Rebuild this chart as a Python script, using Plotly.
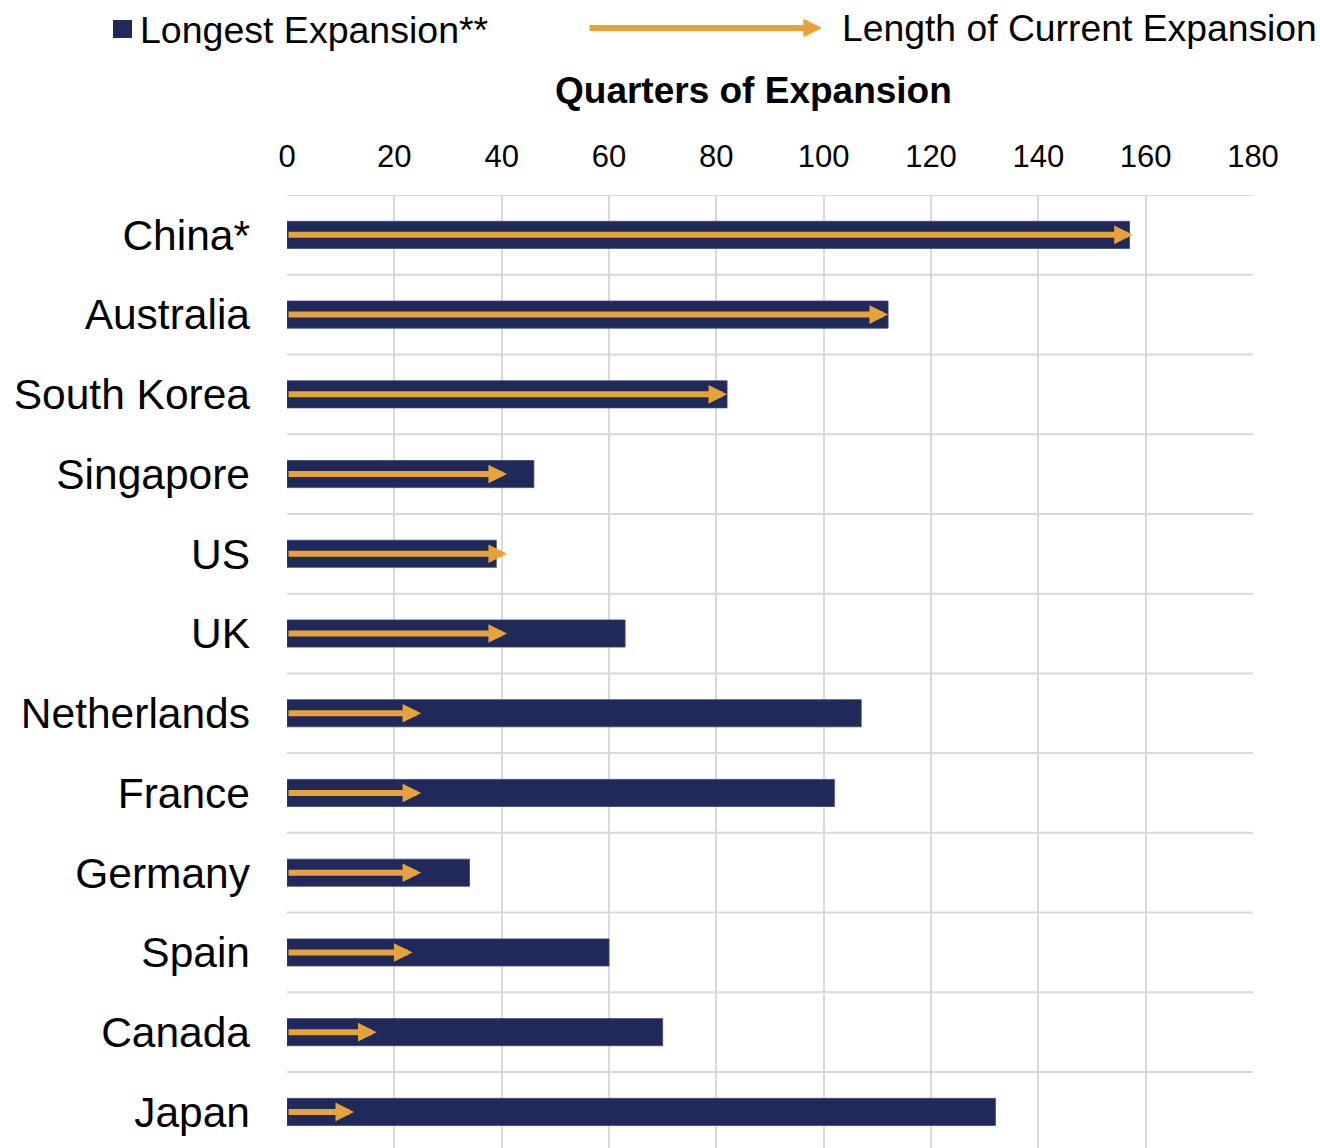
import plotly.graph_objects as go

# Economic expansion lengths, in quarters
countries = ["China*", "Australia", "South Korea", "Singapore", "US", "UK",
             "Netherlands", "France", "Germany", "Spain", "Canada", "Japan"]
longest_expansion = [157, 112, 82, 46, 39, 63, 107, 102, 34, 60, 70, 132]
current_expansion = [157.6, 112, 82, 41, 41, 41, 25, 25, 25, 23.4, 16.7, 12.5]
x_ticks = [0, 20, 40, 60, 80, 100, 120, 140, 160, 180]

NAVY = "#1f2a5a"
ORANGE = "#e8a23a"
GRID = "#d9d9d9"
FONT = "Liberation Sans, Arial, sans-serif"

W, H = 1320, 1148
ML, MR, MT, MB = 287, 67, 195, 0
PW, PH = W - ML - MR, H - MT - MB


def px_x(p):
    return (p - ML) / PW


def px_y(p):
    return (H - MB - p) / PH


rows = list(range(len(countries)))
row_px = 79.73  # height of one category band
y_bottom = -0.5 + PH / row_px

ARROW = dict(showarrow=True, arrowhead=2, arrowsize=0.62, arrowwidth=6,
             arrowcolor=ORANGE, standoff=0)

fig = go.Figure()
fig.add_trace(go.Bar(
    x=longest_expansion, y=rows, orientation="h", width=0.34,
    marker=dict(color=NAVY, line=dict(color="#3b4675", width=0.8)),
    showlegend=False, hoverinfo="x+y",
))

annotations = []
for r, cur in zip(rows, current_expansion):
    annotations.append(dict(
        x=cur, y=r, xref="x", yref="y", ax=0, ay=r, axref="x", ayref="y",
        text="", **ARROW,
    ))

# axis title above the tick labels
annotations.append(dict(
    text="<b>Quarters of Expansion</b>", xref="paper", yref="paper",
    x=px_x(753.5), y=px_y(90), xanchor="center", yanchor="middle",
    showarrow=False, font=dict(family=FONT, size=37, color="black"),
))

# legend entries
annotations.append(dict(
    text="Longest Expansion**", xref="paper", yref="paper",
    x=px_x(138), y=px_y(30), xanchor="left", yanchor="middle",
    showarrow=False, font=dict(family=FONT, size=37.5, color="black"),
))
annotations.append(dict(
    x=px_x(822), y=px_y(28), xref="paper", yref="paper",
    ax=-(822 - 588), ay=0, text="", **ARROW,
))
annotations.append(dict(
    text="Length of Current Expansion", xref="paper", yref="paper",
    x=px_x(840), y=px_y(28), xanchor="left", yanchor="middle",
    showarrow=False, font=dict(family=FONT, size=37.3, color="black"),
))

shapes = [dict(
    type="rect", xref="paper", yref="paper",
    x0=px_x(113), x1=px_x(132), y0=px_y(38), y1=px_y(20),
    fillcolor=NAVY, line=dict(width=0),
)]
# horizontal separators between category bands
for b in [r - 0.5 for r in rows] + [len(rows) - 0.5]:
    shapes.append(dict(
        type="line", xref="paper", yref="y", x0=0, x1=1, y0=b, y1=b,
        line=dict(color=GRID, width=2), layer="below",
    ))

fig.update_layout(
    width=W, height=H,
    margin=dict(l=ML, r=MR, t=MT, b=MB, pad=0),
    paper_bgcolor="white", plot_bgcolor="white",
    font=dict(family=FONT, color="black"),
    annotations=annotations, shapes=shapes,
    xaxis=dict(
        side="top", range=[0, 180], tickvals=x_ticks,
        showgrid=True, gridcolor=GRID, gridwidth=2, zeroline=False,
        showline=False, ticks="", tickfont=dict(size=31, color="black"),
        ticklabelstandoff=21, fixedrange=True,
    ),
    yaxis=dict(
        range=[y_bottom, -0.5], tickvals=rows, ticktext=countries,
        showgrid=False, zeroline=False, showline=False, ticks="",
        tickfont=dict(size=42.5, color="black"), ticklabelstandoff=36,
        fixedrange=True,
    ),
    bargap=0.66,
)

fig.write_html("out.html")
